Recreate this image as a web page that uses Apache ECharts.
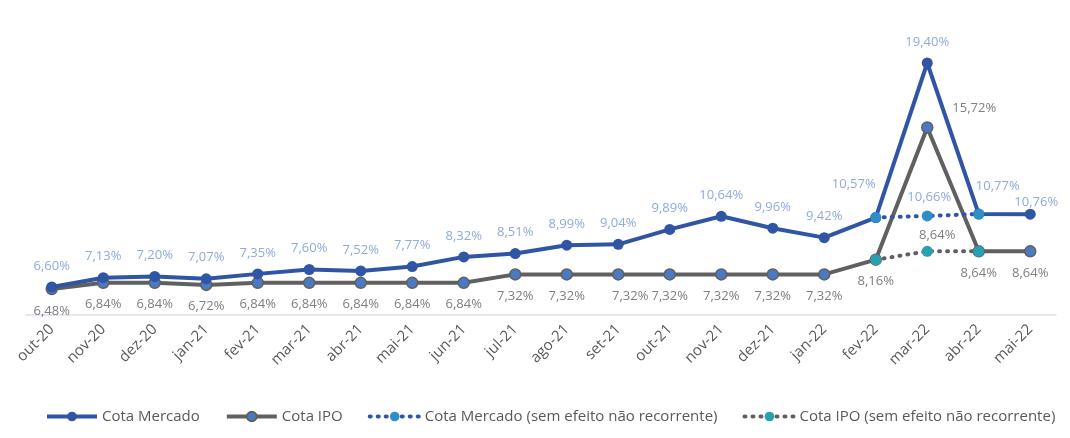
<!DOCTYPE html>
<html>
<head>
<meta charset="utf-8">
<script src="https://cdn.jsdelivr.net/npm/echarts@6/dist/echarts.min.js"></script>
<style>
  html, body { margin: 0; padding: 0; background: #fff; }
  #graph { width: 1070px; height: 438px; }
</style>
</head>
<body>
<div id="graph"></div>
<script>
var months = ['out-20', 'nov-20', 'dez-20', 'jan-21', 'fev-21', 'mar-21', 'abr-21', 'mai-21', 'jun-21',
  'jul-21', 'ago-21', 'set-21', 'out-21', 'nov-21', 'dez-21', 'jan-22', 'fev-22', 'mar-22', 'abr-22', 'mai-22'];

var cotaMercado = [6.60, 7.13, 7.20, 7.07, 7.35, 7.60, 7.52, 7.77, 8.32, 8.51, 8.99, 9.04, 9.89, 10.64, 9.96, 9.42, 10.57, 19.40, 10.77, 10.76];
var cotaIPO = [6.48, 6.84, 6.84, 6.72, 6.84, 6.84, 6.84, 6.84, 6.84, 7.32, 7.32, 7.32, 7.32, 7.32, 7.32, 7.32, 8.16, 15.72, 8.64, 8.64];

// sem efeito nao recorrente (fev-22 .. abr-22 only)
var mercadoSemEfeito = [null, null, null, null, null, null, null, null, null, null, null, null, null, null, null, null, 10.57, 10.66, 10.77, null];
var ipoSemEfeito = [null, null, null, null, null, null, null, null, null, null, null, null, null, null, null, null, 8.16, 8.64, 8.64, null];

var font = 'Open Sans';

function pct(v) {
  return v.toFixed(2).replace('.', ',') + '%';
}

// a few labels are moved in the original
var mercadoOffsets = { 16: [-22, -12], 18: [19, -7], 19: [6, 9] };
var ipoOffsets = { 11: [12, 0], 17: [47, 3] };

function buildData(values, offsets, pos) {
  return values.map(function (v, i) {
    var d = { value: v };
    if (offsets[i]) {
      d.label = { offset: offsets[i] };
      if (i == 17 && pos == 'bottom') d.label.position = 'top';
    }
    return d;
  });
}

var dom = document.getElementById('graph');
var myChart = echarts.init(dom);

var option = {
  backgroundColor: '#ffffff',
  animation: false,
  grid: { left: 26, right: 14, top: 52.5, bottom: 123 },
  legend: {
    bottom: 14,
    left: 45,
    width: 1025,
    padding: 0,
    itemWidth: 50,
    itemHeight: 12,
    itemGap: 25,
    lineStyle: { width: 4 },
    textStyle: { fontFamily: font, fontSize: 15, color: '#595959' },
    data: ['Cota Mercado', 'Cota IPO', 'Cota Mercado (sem efeito não recorrente)', 'Cota IPO (sem efeito não recorrente)']
  },
  xAxis: {
    type: 'category',
    data: months,
    boundaryGap: true,
    axisLine: { lineStyle: { color: '#d9e1f2', width: 1.5 } },
    axisTick: { show: false },
    axisLabel: {
      rotate: 45,
      interval: 0,
      margin: 12,
      fontFamily: font,
      fontSize: 15,
      color: '#595959'
    }
  },
  yAxis: {
    type: 'value',
    min: 5,
    max: 20,
    show: false,
    splitLine: { show: false }
  },
  series: [
    {
      name: 'Cota Mercado',
      type: 'line',
      data: buildData(cotaMercado, mercadoOffsets, 'top'),
      symbol: 'circle',
      symbolSize: 11,
      z: 3,
      lineStyle: { color: '#2f55a4', width: 4 },
      itemStyle: { color: '#2f55a4' },
      label: {
        show: true,
        position: 'top',
        distance: 9,
        fontFamily: font,
        fontSize: 13,
        color: '#8faadc',
        formatter: function (p) { return pct(p.value); }
      }
    },
    {
      name: 'Cota IPO',
      type: 'line',
      data: buildData(cotaIPO, ipoOffsets, 'bottom'),
      symbol: 'circle',
      symbolSize: 11,
      z: 2,
      lineStyle: { color: '#606060', width: 4 },
      itemStyle: { color: '#4a7ac4', borderColor: '#606060', borderWidth: 1.5 },
      label: {
        show: true,
        position: 'bottom',
        distance: 9,
        fontFamily: font,
        fontSize: 13,
        color: '#7f7f7f',
        formatter: function (p) { return pct(p.value); }
      }
    },
    {
      name: 'Cota Mercado (sem efeito não recorrente)',
      type: 'line',
      data: mercadoSemEfeito,
      symbol: 'circle',
      symbolSize: 11,
      z: 4,
      lineStyle: { color: '#2f55a4', width: 4, type: [1, 7], cap: 'round' },
      itemStyle: { color: '#2e8fc8' },
      label: {
        show: true,
        position: 'top',
        distance: 9,
        offset: [2, 2],
        fontFamily: font,
        fontSize: 13,
        color: '#8faadc',
        formatter: function (p) { return p.dataIndex == 17 ? pct(p.value) : ''; }
      }
    },
    {
      name: 'Cota IPO (sem efeito não recorrente)',
      type: 'line',
      data: ipoSemEfeito,
      symbol: 'circle',
      symbolSize: 11,
      z: 4,
      lineStyle: { color: '#606060', width: 4, type: [1, 7], cap: 'round' },
      itemStyle: { color: '#29a0ad' },
      label: {
        show: true,
        position: 'top',
        distance: 9,
        offset: [10, 5],
        fontFamily: font,
        fontSize: 13,
        color: '#7f7f7f',
        formatter: function (p) { return p.dataIndex == 17 ? pct(p.value) : ''; }
      }
    }
  ]
};

if (option && typeof option === 'object') {
  myChart.setOption(option, true);
}
</script>
</body>
</html>
